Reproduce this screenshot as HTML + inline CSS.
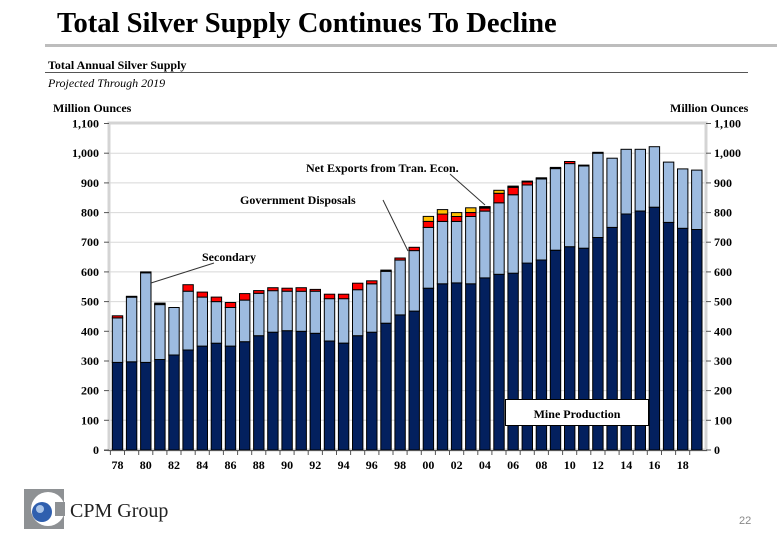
<!DOCTYPE html>
<html><head><meta charset="utf-8"><style>
html,body{margin:0;padding:0;background:#fff;}
svg{display:block;font-family:"Liberation Serif",serif;}
</style></head><body>
<svg id="s" width="777" height="537" viewBox="0 0 777 537" xmlns="http://www.w3.org/2000/svg">
<text x="57" y="32" font-size="28.6" font-weight="bold" fill="#000">Total Silver Supply Continues To Decline</text>
<rect x="45" y="44" width="732" height="3" fill="#bdbdbd"/>
<text x="48" y="69" font-size="12" font-weight="bold">Total Annual Silver Supply</text>
<rect x="45" y="72" width="703" height="1" fill="#555"/>
<text x="48" y="87" font-size="12" font-style="italic">Projected Through 2019</text>
<text x="53" y="112" font-size="12" font-weight="bold">Million Ounces</text>
<text x="670" y="112" font-size="12" font-weight="bold">Million Ounces</text>
<g id="chart"></g>
<rect x="24" y="489" width="40" height="40" fill="#8e9194"/>
<circle cx="48" cy="509" r="17" fill="#fff"/>
<rect x="55" y="502" width="10" height="14" fill="#8e9194"/>
<circle cx="42" cy="512" r="10" fill="#2f5fae"/>
<circle cx="40" cy="509" r="4" fill="#a9c4e8"/>
<text x="70" y="517" font-size="20" fill="#222">CPM Group</text>
<text x="739" y="524" font-size="11" fill="#888" font-family="Liberation Sans,sans-serif">22</text>
</svg>
<script>
(function(){
var g=document.getElementById('chart'),h='';
function Y(v){return 450-v*0.2968;}
h+='<rect x="109" y="123" width="597" height="327" fill="#fff" stroke="#d4d4d4" stroke-width="3"/>';
for(var v=0;v<=1100;v+=100){var y=Y(v).toFixed(1);
 if(v>0&&v<1100)h+='<line x1="110" x2="705" y1="'+y+'" y2="'+y+'" stroke="#d8d8d8" stroke-width="1"/>';
 var l=v>=1000?('1,'+String(v-1000).padStart(3,'0')):String(v);
 h+='<line x1="104" x2="109" y1="'+y+'" y2="'+y+'" stroke="#555"/>';
 h+='<line x1="706" x2="711" y1="'+y+'" y2="'+y+'" stroke="#555"/>';
 h+='<text x="99" y="'+(+y+4)+'" font-size="12" font-weight="bold" text-anchor="end">'+l+'</text>';
 h+='<text x="714" y="'+(+y+4)+'" font-size="12" font-weight="bold">'+l+'</text>';}
var d=[[295,445,452,0,0],[297,515,0,0,518],[295,597,0,0,600],[305,490,0,0,495],[320,480,0,0,0],[337,535,557,0,0],[350,515,532,0,0],[360,500,515,0,0],[350,480,497,0,0],[365,505,527,0,0],[385,528,537,0,0],[397,537,547,0,0],[402,535,545,0,0],[400,535,547,0,0],[393,535,541,0,0],[367,510,525,0,0],[360,510,525,0,0],[385,540,562,0,0],[397,560,570,0,0],[427,602,0,0,606],[455,640,647,0,0],[468,672,683,0,0],[545,750,770,787,0],[560,770,795,810,0],[563,770,787,800,0],[560,787,800,816,0],[580,805,815,818,820],[592,833,865,875,0],[596,860,885,0,889],[630,893,903,0,906],[640,913,0,0,917],[673,948,0,0,952],[685,965,972,0,0],[680,957,0,0,960],[716,1000,0,0,1003],[750,983,0,0,0],[795,1013,0,0,0],[805,1013,0,0,0],[818,1022,0,0,0],[767,970,0,0,0],[747,947,0,0,0],[743,943,0,0,0]];
function r(x,a,b,c){if(b<=a)return '';return '<rect x="'+x.toFixed(1)+'" y="'+Y(b).toFixed(1)+'" width="10.4" height="'+(Y(a)-Y(b)).toFixed(1)+'" fill="'+c+'" stroke="#000" stroke-width="1"/>';}
for(var i=0;i<d.length;i++){var x=112.3+i*14.13,e=d[i],tp=e[1];
 h+=r(x,0,e[0],'#03205e');h+=r(x,e[0],e[1],'#9dbbe0');
 if(e[2]){h+=r(x,tp,e[2],'#ff0000');tp=e[2];}
 if(e[3]){h+=r(x,tp,e[3],'#ffc000');tp=e[3];}
 if(e[4]){h+=r(x,tp,e[4],'#000');}
 h+='<line x1="'+(x-1.9).toFixed(1)+'" x2="'+(x-1.9).toFixed(1)+'" y1="450" y2="455" stroke="#555"/>';
 if(i%2==0)h+='<text x="'+(x+5.2).toFixed(1)+'" y="469" font-size="12" font-weight="bold" text-anchor="middle">'+String((78+i)%100).padStart(2,'0')+'</text>';}
h+='<line x1="104" x2="707" y1="450.5" y2="450.5" stroke="#555"/>';
h+='<text x="202" y="261" font-size="12" font-weight="bold">Secondary</text><line x1="214" y1="263" x2="151" y2="283" stroke="#333"/>';
h+='<text x="240" y="204" font-size="12" font-weight="bold">Government Disposals</text><line x1="383" y1="200" x2="408" y2="251" stroke="#333"/>';
h+='<text x="306" y="172" font-size="12" font-weight="bold">Net Exports from Tran. Econ.</text><line x1="450" y1="174" x2="485" y2="205" stroke="#333"/>';
h+='<rect x="505.5" y="399.5" width="143" height="26" fill="#fff" stroke="#000"/><text x="577" y="418" font-size="12" font-weight="bold" text-anchor="middle">Mine Production</text>';
g.innerHTML=h;
})();
</script>
</body></html>
